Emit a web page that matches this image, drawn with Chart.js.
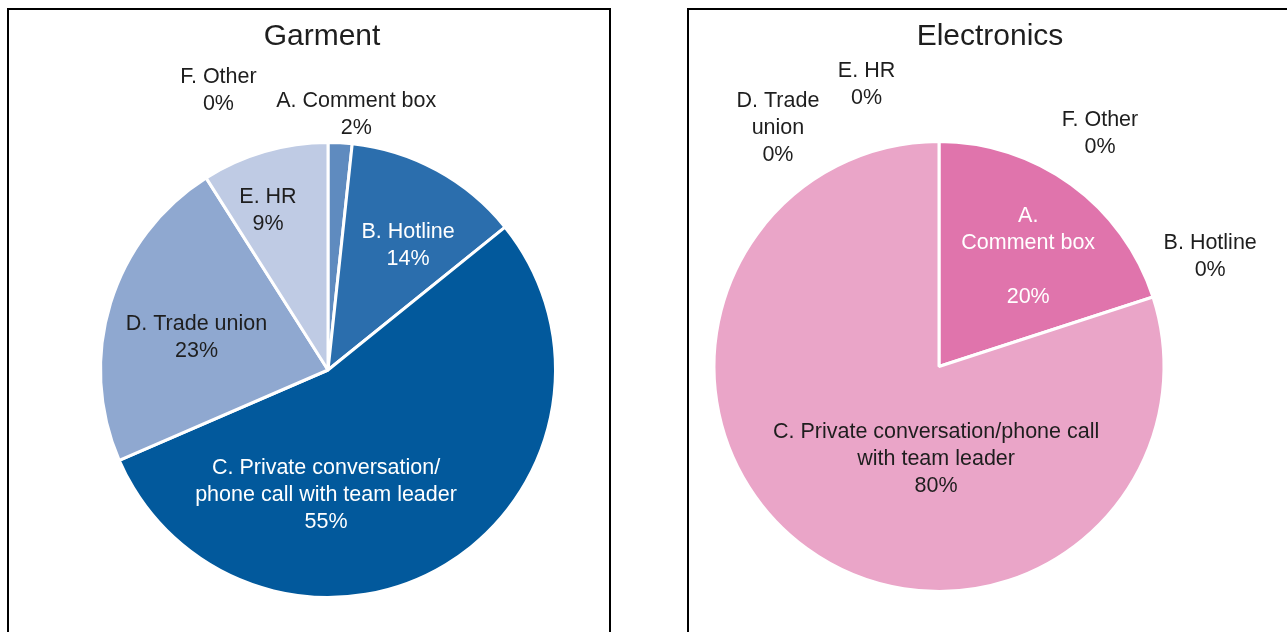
<!DOCTYPE html>
<html>
<head>
<meta charset="utf-8">
<script src="https://cdn.jsdelivr.net/npm/chart.js@4.4.0/dist/chart.umd.min.js"></script>
<style>
    html, body { margin: 0; padding: 0; background: #fff; width: 1287px; height: 632px; overflow: hidden; }
    .panel { position: absolute; top: 8px; height: 700px; border: 2px solid #000; box-sizing: border-box; background: #fff; }
    #garmentPanel { left: 7px; width: 604px; }
    #electronicsPanel { left: 687px; width: 620px; }
    canvas { position: absolute; left: 0; top: 0; }
</style>
</head>
<body>
<div class="panel" id="garmentPanel"><canvas id="garmentChart" width="600" height="622"></canvas></div>
<div class="panel" id="electronicsPanel"><canvas id="electronicsChart" width="598" height="622"></canvas></div>
<script>
// categories, clockwise from 12 o'clock
const categories = ['A. Comment box', 'B. Hotline', 'C. Private conversation/phone call with team leader',
    'D. Trade union', 'E. HR', 'F. Other'];

// slice sizes as drawn
const garmentValues = [1.7, 12.5, 54.3, 22.5, 9.0, 0];
const electronicsValues = [20, 0, 80, 0, 0, 0];

// percentages printed on the labels
const garmentPct = ['2%', '14%', '55%', '23%', '9%', '0%'];
const electronicsPct = ['20%', '0%', '80%', '0%', '0%', '0%'];

// label wrapping as in the picture
const garmentNames = [['A. Comment box'], ['B. Hotline'], ['C. Private conversation/', 'phone call with team leader'],
    ['D. Trade union'], ['E. HR'], ['F. Other']];
const electronicsNames = [['A.', 'Comment box', ''], ['B. Hotline'], ['C. Private conversation/phone call', 'with team leader'],
    ['D. Trade', 'union'], ['E. HR'], ['F. Other']];

const garmentColors = ['#5F8BBF', '#2B6EAD', '#02599C', '#8FA8D0', '#BFCBE4', '#DCE3F0'];
const electronicsColors = ['#E074AC', '#D9569A', '#EAA5C8', '#F1C3DA', '#F5D5E5', '#C94A8C'];

const DARK = '#1e1e1e';

// draws the title and the slice labels; label spots are given as [angle from 12 o'clock, fraction of radius]
const sliceLabels = {
    id: 'sliceLabels',
    afterDatasetsDraw(chart, args, opts) {
        const ctx = chart.ctx;
        const arcs = chart.getDatasetMeta(0).data;
        ctx.save();
        ctx.textAlign = 'center';
        ctx.textBaseline = 'middle';
        ctx.font = opts.font;
        opts.lines.forEach((lines, i) => {
            const arc = arcs[i];
            const [deg, frac] = opts.placement[i];
            const a = deg * Math.PI / 180;
            const cx = arc.x + Math.sin(a) * frac * arc.outerRadius;
            const cy = arc.y - Math.cos(a) * frac * arc.outerRadius;
            const top = cy - (lines.length - 1) * opts.lineHeight / 2;
            ctx.fillStyle = opts.textColors[i];
            lines.forEach((t, k) => ctx.fillText(t, cx, top + k * opts.lineHeight));
        });
        ctx.font = opts.titleFont;
        ctx.fillStyle = DARK;
        ctx.fillText(opts.title, opts.titleX, opts.titleY);
        ctx.restore();
    }
};

function makePie(id, title, values, colors, names, pct, placement, textColors, padding, titleX) {
    return new Chart(document.getElementById(id), {
        type: 'pie',
        data: {
            labels: categories,
            datasets: [{
                data: values,
                backgroundColor: colors,
                borderColor: '#ffffff',
                borderWidth: 3,
            }],
        },
        options: {
            responsive: false,
            animation: false,
            events: [],
            layout: { padding: padding },
            plugins: {
                legend: { display: false },
                tooltip: { enabled: false },
                sliceLabels: {
                    title: title,
                    titleX: titleX,
                    titleY: 27,
                    titleFont: '30px "Liberation Sans", Arial, sans-serif',
                    font: '21.5px "Liberation Sans", Arial, sans-serif',
                    lineHeight: 27,
                    lines: names.map((n, i) => n.concat([pct[i]])),
                    placement: placement,
                    textColors: textColors,
                },
            },
        },
        plugins: [sliceLabels],
    });
}

makePie('garmentChart', 'Garment', garmentValues, garmentColors, garmentNames, garmentPct,
    [[6.3, 1.13], [32.8, 0.65], [180.9, 0.55], [283.7, 0.595], [339.4, 0.75], [338.6, 1.32]],
    [DARK, '#ffffff', '#ffffff', DARK, DARK, DARK],
    { left: 90, right: 52, top: 131, bottom: 33 }, 313);

makePie('electronicsChart', 'Electronics', electronicsValues, electronicsColors, electronicsNames, electronicsPct,
    [[39, 0.63], [68, 1.30], [181.8, 0.41], [326, 1.28], [345.6, 1.295], [34.6, 1.26]],
    ['#ffffff', DARK, DARK, DARK, DARK, DARK],
    { left: 23, right: 121, top: 130, bottom: 39 }, 301);
</script>
</body>
</html>
